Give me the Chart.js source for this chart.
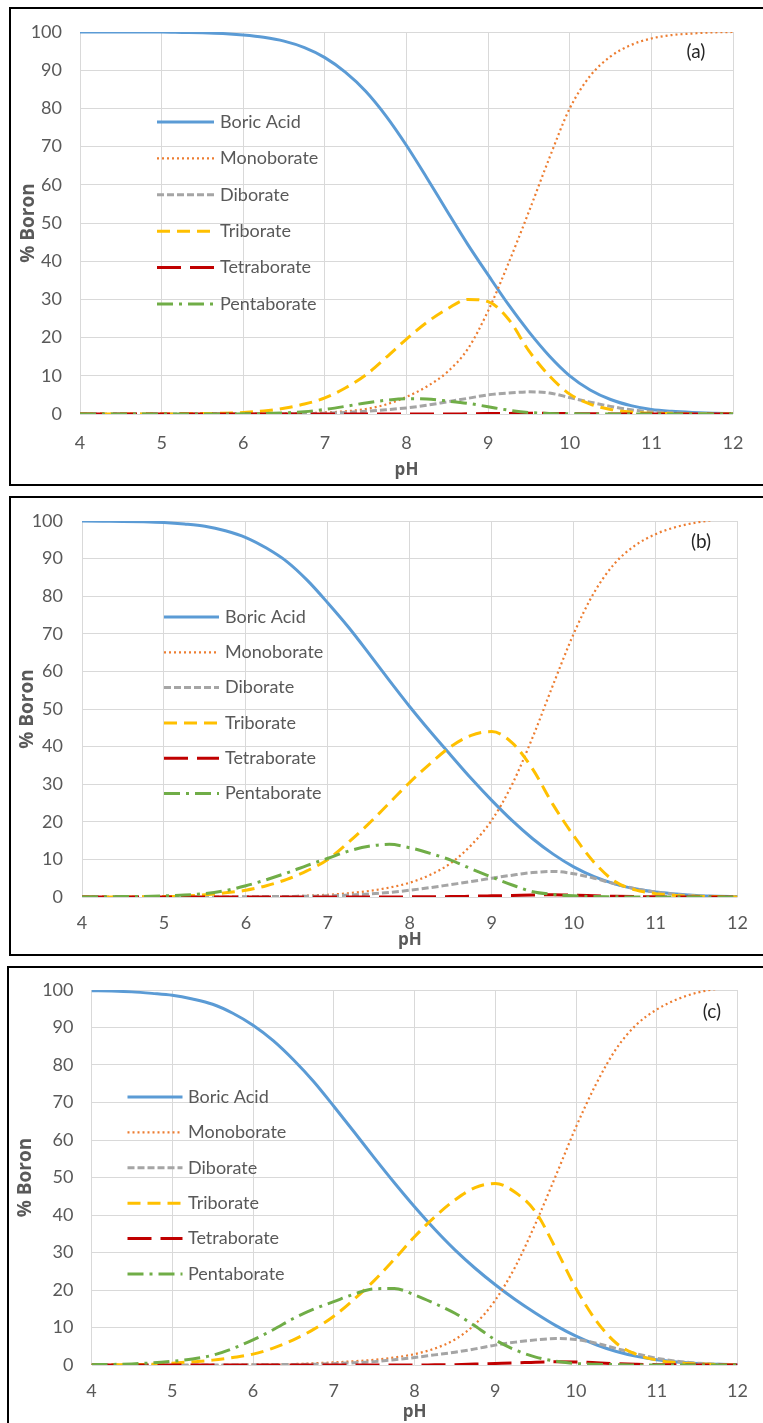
<!DOCTYPE html>
<html>
<head>
<meta charset="utf-8">
<script src="https://cdn.jsdelivr.net/npm/chart.js@4.4.0/dist/chart.umd.min.js"></script>
<style>
body { margin: 0; width: 763px; height: 1423px; background: #fff; overflow: hidden; position: relative; }
.panel { position: absolute; border: 2px solid #000; box-sizing: border-box; }
.wrap { position: absolute; left: 0; width: 763px; }
</style>
</head>
<body>
<div class="panel" style="left:9px;top:7px;width:800px;height:479px"></div>
<div class="panel" style="left:9px;top:496px;width:800px;height:460px"></div>
<div class="panel" style="left:7px;top:966px;width:800px;height:500px"></div>
<div class="wrap" style="top:0;height:490px"><canvas id="chartA" width="763" height="490"></canvas></div>
<div class="wrap" style="top:490px;height:470px"><canvas id="chartB" width="763" height="470"></canvas></div>
<div class="wrap" style="top:960px;height:463px"><canvas id="chartC" width="763" height="463"></canvas></div>
<script>
// pH grid shared by all three panels
var pH = [4, 4.25, 4.5, 4.75, 5, 5.25, 5.5, 5.75, 6, 6.25, 6.5, 6.75, 7, 7.25, 7.5, 7.75,
          8, 8.25, 8.5, 8.75, 9, 9.25, 9.5, 9.75, 10, 10.25, 10.5, 10.75, 11, 11.25, 11.5, 11.75, 12];

var speciesNames = ['Boric Acid', 'Monoborate', 'Diborate', 'Triborate', 'Tetraborate', 'Pentaborate'];

// panel (a)
var boricA = [100, 100, 100, 100, 100, 99.9, 99.8, 99.6, 99.2, 98.6, 97.6, 95.9, 93.3, 89.5, 84.5, 78.0, 70.3, 61.8, 53.0, 44.4, 36.4, 28.6, 21.5, 15.2, 10.0, 6.3, 3.8, 2.2, 1.2, 0.7, 0.4, 0.2, 0.1];
var monoA = [0, 0, 0, 0, 0, 0, 0, 0, 0.05, 0.1, 0.15, 0.25, 0.4, 0.7, 1.3, 2.5, 4.5, 7.2, 11.0, 17.0, 27.0, 39.5, 53.0, 67.0, 80.0, 88.5, 93.6, 96.6, 98.3, 99.2, 99.6, 99.9, 100];
var diA = [0, 0, 0, 0, 0, 0, 0, 0, 0, 0, 0.05, 0.1, 0.2, 0.4, 0.7, 1.1, 1.6, 2.3, 3.2, 4.1, 5.0, 5.5, 5.8, 5.5, 4.3, 3.1, 2.0, 1.1, 0.6, 0.3, 0.1, 0.05, 0];
var triA = [0, 0, 0, 0, 0, 0.05, 0.1, 0.2, 0.4, 0.8, 1.5, 2.6, 4.2, 6.8, 10.2, 14.8, 19.6, 24.0, 27.5, 30.0, 29.4, 24.8, 16.5, 10.0, 5.2, 2.6, 1.2, 0.5, 0.2, 0.1, 0, 0, 0];
var tetraA = [0, 0, 0, 0, 0, 0, 0, 0, 0, 0, 0, 0, 0, 0, 0, 0, 0, 0, 0, 0.05, 0.1, 0.15, 0.2, 0.15, 0.1, 0.05, 0, 0, 0, 0, 0, 0, 0];
var pentaA = [0, 0, 0, 0, 0, 0, 0, 0, 0.05, 0.1, 0.3, 0.6, 1.2, 2.0, 2.9, 3.6, 4.0, 3.9, 3.4, 2.8, 1.9, 1.0, 0.4, 0.15, 0.05, 0, 0, 0, 0, 0, 0, 0, 0];

// panel (b)
var boricB = [100, 99.95, 99.9, 99.8, 99.6, 99.2, 98.6, 97.4, 95.6, 92.8, 89.2, 84.2, 78.2, 71.8, 64.8, 57.6, 50.6, 44.0, 37.7, 31.5, 25.7, 20.3, 15.5, 11.4, 8.0, 5.4, 3.5, 2.2, 1.3, 0.8, 0.4, 0.2, 0.1];
var monoB = [0, 0, 0, 0, 0, 0, 0, 0, 0.05, 0.1, 0.2, 0.35, 0.6, 1.0, 1.6, 2.5, 3.8, 5.9, 9.0, 13.8, 20.4, 30.0, 42.5, 56.5, 70.0, 81.0, 88.7, 93.5, 96.5, 98.4, 99.6, 100.4, 100.9];
var diB = [0, 0, 0, 0, 0, 0, 0, 0, 0.05, 0.1, 0.15, 0.2, 0.3, 0.5, 0.8, 1.2, 1.8, 2.5, 3.3, 4.1, 5.0, 5.8, 6.5, 6.8, 6.2, 5.0, 3.5, 2.2, 1.3, 0.7, 0.3, 0.15, 0.1];
var triB = [0, 0, 0, 0.05, 0.1, 0.25, 0.6, 1.1, 1.8, 3.0, 4.7, 7.0, 10.0, 14.5, 19.5, 25.0, 30.5, 35.5, 40.0, 43.0, 44.0, 41.0, 34.0, 24.5, 16.3, 9.2, 4.2, 1.9, 0.9, 0.4, 0.2, 0.1, 0];
var tetraB = [0, 0, 0, 0, 0, 0, 0, 0, 0, 0, 0, 0, 0, 0, 0, 0, 0.05, 0.08, 0.1, 0.2, 0.3, 0.4, 0.55, 0.6, 0.5, 0.35, 0.2, 0.1, 0.05, 0, 0, 0, 0];
var pentaB = [0, 0.05, 0.1, 0.15, 0.3, 0.5, 0.9, 1.7, 3.0, 4.6, 6.4, 8.4, 10.3, 12.2, 13.5, 14.0, 13.1, 11.6, 9.8, 7.5, 5.3, 3.2, 1.4, 0.7, 0.3, 0.1, 0.05, 0, 0, 0, 0, 0, 0];

// panel (c)
var boricC = [99.8, 99.7, 99.5, 99.1, 98.6, 97.6, 96.2, 93.8, 90.6, 86.5, 81.4, 75.6, 69.0, 62.2, 55.3, 48.6, 42.2, 36.2, 30.7, 25.8, 21.4, 17.4, 13.8, 10.5, 7.7, 5.4, 3.6, 2.3, 1.4, 0.8, 0.4, 0.2, 0.1];
var monoC = [0, 0, 0, 0, 0, 0, 0, 0, 0.1, 0.15, 0.25, 0.45, 0.7, 1.0, 1.4, 2.0, 2.9, 4.4, 6.8, 10.9, 17.3, 26.3, 37.8, 50.5, 63.5, 75.0, 84.4, 90.8, 94.8, 97.5, 99.3, 100.3, 100.8];
var diC = [0, 0, 0, 0, 0, 0, 0, 0, 0.05, 0.1, 0.15, 0.2, 0.35, 0.6, 0.9, 1.4, 2.0, 2.7, 3.4, 4.3, 5.3, 6.1, 6.7, 7.05, 6.8, 5.8, 4.4, 3.0, 1.8, 1.0, 0.5, 0.2, 0.1];
var triC = [0, 0.05, 0.1, 0.2, 0.5, 0.85, 1.3, 2.0, 2.9, 4.5, 6.7, 9.5, 13.0, 17.5, 22.5, 28.2, 34.2, 39.5, 44.0, 47.3, 48.4, 46.0, 40.8, 31.0, 20.4, 11.8, 5.8, 2.8, 1.3, 0.6, 0.3, 0.1, 0];
var tetraC = [0, 0, 0, 0, 0, 0, 0, 0, 0, 0, 0, 0, 0, 0, 0, 0, 0, 0.05, 0.1, 0.25, 0.4, 0.55, 0.75, 0.85, 0.8, 0.6, 0.35, 0.2, 0.1, 0.05, 0, 0, 0];
var pentaC = [0.1, 0.15, 0.3, 0.55, 1.0, 1.6, 2.6, 4.4, 6.7, 9.4, 12.4, 14.9, 16.9, 18.9, 20.3, 20.4, 18.7, 16.4, 13.8, 10.4, 6.7, 4.0, 2.1, 1.0, 0.4, 0.2, 0.1, 0, 0, 0, 0, 0, 0];

// excel-like line styles, one per species
var lineStyles = [
    { color: '#5B9BD5', width: 3, dash: [] },
    { color: '#ED7D31', width: 2.2, dash: [2, 3] },
    { color: '#A5A5A5', width: 3, dash: [7, 3] },
    { color: '#FFC000', width: 3, dash: [13, 7] },
    { color: '#C00000', width: 3, dash: [24, 9] },
    { color: '#70AD47', width: 3, dash: [16, 6, 3, 6] }
];

var FONT = "Lato, 'Open Sans', sans-serif";
var TITLE_FONT = "'Open Sans', 'DejaVu Sans', sans-serif";
var GREY = '#595959';

// legend drawn inside the plot, like the excel one
var insideLegend = {
    id: 'insideLegend',
    afterDatasetsDraw: function (chart, args, opts) {
        var ctx = chart.ctx;
        ctx.save();
        chart.data.datasets.forEach(function (ds, i) {
            var y = opts.y0 + i * opts.dy;
            ctx.strokeStyle = ds.borderColor;
            ctx.lineWidth = ds.borderWidth;
            ctx.setLineDash(ds.borderDash);
            ctx.beginPath();
            ctx.moveTo(opts.x1, y);
            ctx.lineTo(opts.x2, y);
            ctx.stroke();
            ctx.setLineDash([]);
            ctx.fillStyle = GREY;
            ctx.font = '18px ' + FONT;
            ctx.textBaseline = 'middle';
            ctx.textAlign = 'left';
            ctx.fillText(ds.label, opts.tx, y);
        });
        // panel tag (a) / (b) / (c)
        ctx.fillStyle = '#262626';
        ctx.font = '19px ' + FONT;
        ctx.textAlign = 'center';
        ctx.fillText(opts.tag, opts.tagX, opts.tagY);
        ctx.restore();
    }
};

function makeChart(canvasId, series, box) {
    var datasets = series.map(function (vals, i) {
        var st = lineStyles[i];
        return {
            label: speciesNames[i],
            data: pH.map(function (x, k) { return { x: x, y: vals[k] }; }),
            borderColor: st.color,
            borderWidth: st.width,
            borderDash: st.dash,
            pointRadius: 0,
            cubicInterpolationMode: 'monotone',
            order: 6 - i
        };
    });

    return new Chart(document.getElementById(canvasId), {
        type: 'line',
        data: { datasets: datasets },
        plugins: [insideLegend],
        options: {
            responsive: false,
            animation: false,
            layout: { padding: { left: 0, top: box.top, right: box.right, bottom: 0 } },
            plugins: {
                legend: { display: false },
                tooltip: { enabled: false },
                insideLegend: box.legend
            },
            scales: {
                x: {
                    type: 'linear', min: 4, max: 12,
                    ticks: { stepSize: 1, color: GREY, font: { family: FONT, size: 18 }, padding: box.xTickPad },
                    grid: { color: '#D9D9D9', drawTicks: false },
                    border: { display: false },
                    title: { display: true, text: 'pH', color: GREY, font: { family: TITLE_FONT, size: 17, weight: 'bold' },
                        padding: { top: box.xTitlePad, bottom: box.xTitlePad } },
                    afterFit: function (s) { s.height = box.xHeight; }
                },
                y: {
                    min: 0, max: 100,
                    ticks: { stepSize: 10, color: GREY, font: { family: FONT, size: 18 }, padding: box.yTickPad },
                    grid: { color: '#D9D9D9', drawTicks: false },
                    border: { display: false },
                    title: { display: true, text: '% Boron', color: GREY, font: { family: TITLE_FONT, size: 19, weight: 'bold' },
                        padding: { top: box.yTitlePad, bottom: box.yTitlePad } },
                    afterFit: function (s) { s.width = box.yWidth; }
                }
            }
        }
    });
}

makeChart('chartA', [boricA, monoA, diA, triA, tetraA, pentaA], {
    top: 32, right: 30, xHeight: 76, yWidth: 80, xTickPad: 18, xTitlePad: 10, yTickPad: 18, yTitlePad: 17,
    legend: { x1: 157, x2: 214, tx: 220, y0: 122, dy: 36.4, tag: '(a)', tagX: 696, tagY: 52 }
});
makeChart('chartB', [boricB, monoB, diB, triB, tetraB, pentaB], {
    top: 31, right: 18, xHeight: 63, yWidth: 82, xTickPad: 15, xTitlePad: 10, yTickPad: 19, yTitlePad: 16,
    legend: { x1: 164, x2: 219, tx: 225, y0: 127, dy: 35.3, tag: '(b)', tagX: 701, tagY: 52 }
});
makeChart('chartC', [boricC, monoC, diC, triC, tetraC, pentaC], {
    top: 30, right: 15, xHeight: 58, yWidth: 91.5, xTickPad: 15, xTitlePad: 1, yTickPad: 18, yTitlePad: 14,
    legend: { x1: 127.5, x2: 182.5, tx: 188, y0: 137, dy: 35.4, tag: '(c)', tagX: 712, tagY: 52 }
});
</script>
</body>
</html>
